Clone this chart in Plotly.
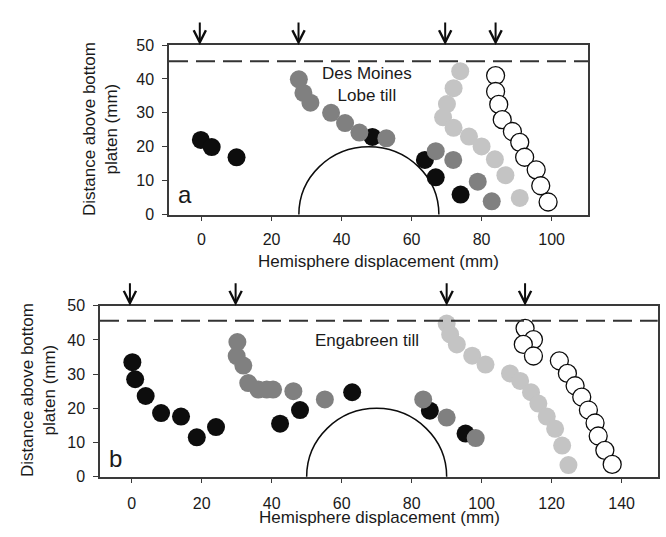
import plotly.graph_objects as go

# ---------------- data: panel a (Des Moines Lobe till) ----------------
a_black_x = [-0.2, 2.9, 10.0, 48.8, 63.8, 66.9, 74.0]
a_black_y = [22.0, 19.9, 16.9, 22.9, 16.1, 11.0, 5.9]
a_dark_x = [27.8, 29.1, 31.1, 37.0, 41.0, 45.1, 52.8, 66.9, 71.9, 78.9, 82.9]
a_dark_y = [39.9, 35.9, 33.0, 30.0, 27.0, 24.2, 22.5, 18.7, 16.1, 9.7, 3.9]
a_light_x = [73.9, 72.0, 70.1, 69.0, 72.0, 76.4, 80.0, 83.8, 86.8, 90.9]
a_light_y = [42.3, 37.3, 32.6, 28.7, 25.6, 23.0, 20.1, 16.3, 11.6, 4.9]
a_open_x = [84.0, 84.0, 84.9, 85.9, 88.8, 90.9, 92.3, 95.6, 96.9, 99.0]
a_open_y = [41.0, 36.3, 32.5, 28.0, 24.5, 21.3, 16.9, 13.2, 8.5, 3.7]
a_arrows = [-0.5, 27.7, 69.6, 84.0]
a_dash_y = 45.2
a_hemi_center = 47.8
a_xrange = [-9.3, 110.4]
a_xticks = [0, 20, 40, 60, 80, 100]

# ---------------- data: panel b (Engabreen till) ----------------
b_black_x = [0.2, 1.0, 4.0, 8.4, 14.1, 18.6, 24.1, 42.4, 48.1, 63.0, 85.2, 95.4]
b_black_y = [33.5, 28.5, 23.6, 18.6, 17.6, 11.5, 14.5, 15.5, 19.5, 24.7, 19.3, 12.6]
b_dark_x = [30.2, 30.0, 31.9, 33.3, 36.2, 38.6, 40.4, 46.2, 55.2, 83.3, 90.0, 98.3]
b_dark_y = [39.4, 35.3, 32.5, 27.4, 25.5, 25.5, 25.5, 25.0, 22.6, 22.6, 17.3, 11.3]
b_light_x = [90.0, 91.0, 92.9, 97.3, 101.1, 108.1, 111.0, 114.1, 116.2, 118.6, 121.0, 123.0, 124.8]
b_light_y = [44.8, 41.6, 38.7, 35.4, 32.8, 30.2, 28.0, 24.7, 21.4, 17.6, 14.0, 9.1, 3.4]
b_open_x = [112.4, 114.8, 111.9, 114.8, 122.2, 124.5, 126.7, 128.6, 130.5, 132.4, 133.3, 135.2, 137.3]
b_open_y = [43.4, 40.1, 38.7, 35.3, 33.9, 30.2, 26.6, 23.3, 19.5, 15.7, 11.9, 7.7, 3.6]
b_arrows = [-0.5, 29.7, 90.0, 112.4]
b_dash_y = 45.6
b_hemi_center = 70.0
b_xrange = [-9.05, 150.3]
b_xticks = [0, 20, 40, 60, 80, 100, 120, 140]

hemi_radius = 20.0
yrange = [0, 50]
yticks = [0, 10, 20, 30, 40, 50]

FONT = "Liberation Sans, Arial, Helvetica, sans-serif"
TXT = "#1a1a1a"
AX = "#3a3a3a"
BLACK = "#0d0d0d"
DARK = "#808080"
LIGHT = "#c4c4c4"
MS = 18

fig = go.Figure()

def add_series(xs, ys, xa, ya, fill, open_=False):
    fig.add_trace(go.Scatter(
        x=xs, y=ys, mode="markers", xaxis=xa, yaxis=ya, hoverinfo="skip",
        marker=dict(size=MS, color="white" if open_ else fill,
                    line=dict(color=BLACK if open_ else fill, width=1.3 if open_ else 0)),
    ))

for suffix, xa, ya in [("a", "x", "y"), ("b", "x2", "y2")]:
    d = globals()
    add_series(d[suffix + "_light_x"], d[suffix + "_light_y"], xa, ya, LIGHT)
    add_series(d[suffix + "_black_x"], d[suffix + "_black_y"], xa, ya, BLACK)
    add_series(d[suffix + "_dark_x"], d[suffix + "_dark_y"], xa, ya, DARK)
    add_series(d[suffix + "_open_x"], d[suffix + "_open_y"], xa, ya, BLACK, open_=True)

axis_common = dict(
    showline=True, linecolor=AX, linewidth=1.5, mirror=True,
    ticks="outside", ticklen=5, tickwidth=1.2, tickcolor=AX,
    showgrid=False, zeroline=False,
    tickfont=dict(family=FONT, size=16, color=TXT),
)

fig.update_layout(
    width=666, height=537,
    margin=dict(l=0, r=0, t=0, b=0),
    paper_bgcolor="white", plot_bgcolor="white",
    showlegend=False,
    font=dict(family=FONT, size=16, color=TXT),
    xaxis=dict(domain=[169 / 666, 588 / 666], range=a_xrange, tickvals=a_xticks,
               anchor="y", ticklabelstandoff=5, **axis_common),
    yaxis=dict(domain=[1 - 213.3 / 537, 1 - 38.3 / 537], range=yrange, tickvals=yticks,
               anchor="x", ticklabelstandoff=5, **axis_common),
    xaxis2=dict(domain=[100 / 666, 657.7 / 666], range=b_xrange, tickvals=b_xticks,
                anchor="y2", ticklabelstandoff=6, **axis_common),
    yaxis2=dict(domain=[1 - 484 / 537, 1 - 307.5 / 537], range=yrange, tickvals=yticks,
                anchor="x2", ticklabelstandoff=5, **axis_common),
)

# hemispheres (circles clipped by the plot area) and dashed lines
for xr, yr, c in [("x", "y", a_hemi_center), ("x2", "y2", b_hemi_center)]:
    fig.add_shape(type="circle", xref=xr, yref=yr,
                  x0=c - hemi_radius, x1=c + hemi_radius,
                  y0=-hemi_radius, y1=hemi_radius,
                  line=dict(color=BLACK, width=1.5), layer="below")
for xr, yr, yv in [("x domain", "y", a_dash_y), ("x2 domain", "y2", b_dash_y)]:
    fig.add_shape(type="line", xref=xr, yref=yr, x0=0, x1=1, y0=yv, y1=yv,
                  line=dict(color="#333333", width=2, dash="19px,8px"), layer="above")

# arrows above the panels
for xr, yr, arr in [("x", "y", a_arrows), ("x2", "y2", b_arrows)]:
    for xv in arr:
        fig.add_annotation(x=xv, y=yrange[1], xref=xr, yref=yr, text="",
                           showarrow=True, ax=0, ay=-24, arrowhead=5,
                           arrowsize=1.2, arrowwidth=2, arrowcolor=BLACK, standoff=0)

# in-panel text
fig.add_annotation(x=47.4, y=38.4, xref="x", yref="y", text="Des Moines<br>Lobe till",
                   showarrow=False, xanchor="center", yanchor="middle",
                   font=dict(family=FONT, size=17, color=TXT))
fig.add_annotation(x=67.2, y=39.7, xref="x2", yref="y2", text="Engabreen till",
                   showarrow=False, xanchor="center", yanchor="middle",
                   font=dict(family=FONT, size=17, color=TXT))
fig.add_annotation(x=-4.8, y=5.8, xref="x", yref="y", text="a",
                   showarrow=False, xanchor="center", yanchor="middle",
                   font=dict(family=FONT, size=24, color=TXT))
fig.add_annotation(x=-4.5, y=5.4, xref="x2", yref="y2", text="b",
                   showarrow=False, xanchor="center", yanchor="middle",
                   font=dict(family=FONT, size=24, color=TXT))

# axis titles
xtitle = "Hemisphere displacement (mm)"
ytitle = "Distance above bottom<br>platen (mm)"
title_font = dict(family=FONT, size=17, color=TXT)
fig.add_annotation(x=378.5 / 666, y=1 - 262 / 537, xref="paper", yref="paper",
                   xanchor="center", yanchor="middle",
                   text=xtitle, showarrow=False, font=title_font)
fig.add_annotation(x=379 / 666, y=0, xref="paper", yref="paper",
                   xanchor="center", yanchor="bottom", borderpad=0,
                   text=xtitle, showarrow=False, font=title_font)
fig.add_annotation(x=100.5 / 666, y=1 - 125.5 / 537, xref="paper", yref="paper",
                   xanchor="center", yanchor="middle",
                   text=ytitle, textangle=-90, showarrow=False, font=title_font)
fig.add_annotation(x=38.5 / 666, y=1 - 395 / 537, xref="paper", yref="paper",
                   xanchor="center", yanchor="middle",
                   text=ytitle, textangle=-90, showarrow=False, font=title_font)

fig.write_html("out.html")
